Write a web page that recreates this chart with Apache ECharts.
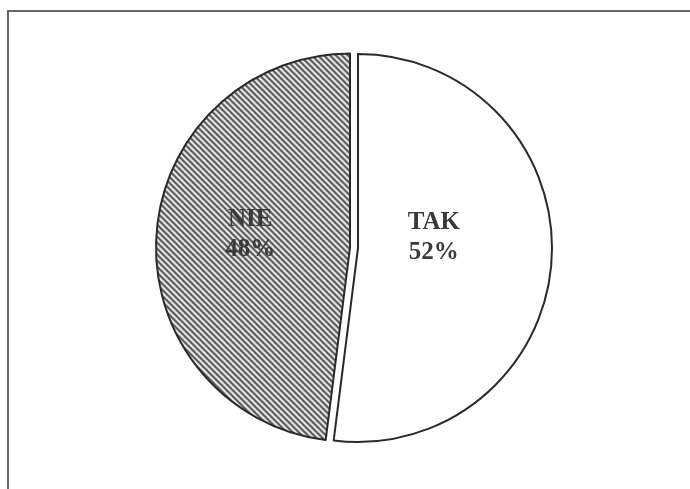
<!DOCTYPE html>
<html>
<head>
<meta charset="utf-8">
<script src="https://cdn.jsdelivr.net/npm/echarts@6/dist/echarts.min.js"></script>
<style>html,body{margin:0;padding:0;background:#fff}#c{width:690px;height:489px}</style>
</head>
<body>
<div id="c"></div>
<script>
const categories = ['TAK', 'NIE'];
const values = [52, 48];
const labelTexts = ['TAK\n52%', 'NIE\n48%'];

function hatch() {
  const p = 6;
  const c = document.createElement('canvas');
  c.width = p; c.height = p;
  const g = c.getContext('2d');
  g.fillStyle = '#eeeeee';
  g.fillRect(0, 0, p, p);
  g.strokeStyle = '#505050';
  g.lineWidth = 2;
  [-p, 0, p].forEach(function (o) {
    g.beginPath();
    g.moveTo(o - 1, -1);
    g.lineTo(o + p + 1, p + 1);
    g.stroke();
  });
  return c;
}

const chart = echarts.init(document.getElementById('c'), null, {renderer: 'canvas'});
const fills = ['#ffffff', {image: hatch(), repeat: 'repeat'}];
const labelShift = [[-24, -17], [0, -7]];

chart.setOption({
  animation: false,
  backgroundColor: '#fff',
  graphic: [{
    type: 'rect',
    shape: {x: 8, y: 11, width: 720, height: 520},
    style: {fill: 'none', stroke: '#666', lineWidth: 2},
    silent: true
  }],
  series: [{
    type: 'pie',
    center: [358, 248],
    radius: 194,
    startAngle: 90,
    clockwise: true,
    selectedMode: 'single',
    selectedOffset: 8,
    avoidLabelOverlap: false,
    emphasis: {disabled: true},
    label: {
      show: true,
      position: 'inside',
      fontFamily: 'Liberation Serif',
      fontWeight: 'bold',
      fontSize: 25,
      lineHeight: 30,
      color: '#3a3a3a'
    },
    labelLine: {show: false},
    labelLayout: function (params) {
      const s = labelShift[params.dataIndex];
      return {dx: s[0], dy: s[1]};
    },
    itemStyle: {borderColor: '#2a2a2a', borderWidth: 2},
    data: categories.map(function (name, i) {
      return {
        name: name,
        value: values[i],
        selected: i === 1,
        itemStyle: {color: fills[i]},
        select: {itemStyle: {color: fills[i], borderColor: '#2a2a2a', borderWidth: 2}},
        label: {formatter: labelTexts[i]}
      };
    })
  }]
});
</script>
</body>
</html>
